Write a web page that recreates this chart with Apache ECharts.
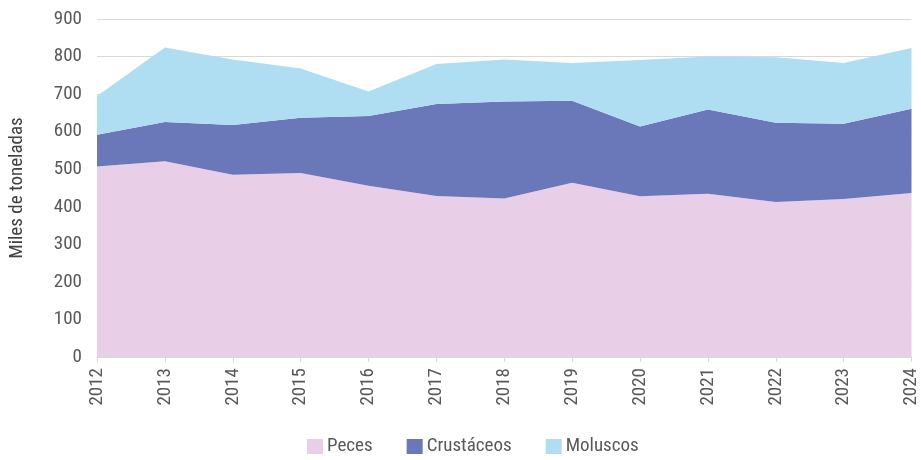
<!DOCTYPE html>
<html><head><meta charset="utf-8">
<script src="https://cdn.jsdelivr.net/npm/echarts@6/dist/echarts.min.js"></script>
<style>html,body{margin:0;padding:0;background:#fff}#c{width:921px;height:460px}</style>
</head><body><div id="c"></div>
<script>
const years = ['2012','2013','2014','2015','2016','2017','2018','2019','2020','2021','2022','2023','2024'];
const peces = [507,521,485,490,456,429,422,464,428,435,413,421,437];
const crustaceos = [85,105,133,147,186,245,258,218,186,224,211,200,224];
const moluscos = [103,198,174,131,65,106,112,101,177,141,174,162,162];
const yTicks = [0,100,200,300,400,500,600,700,800,900];
const FONT = '"Roboto Condensed", "Roboto", sans-serif';
const colors = ['#e8cee6','#6a77b8','#afdef3'];
function mk(name, data, i){
  return {name, type:'line', stack:'t', data, symbol:'none', lineStyle:{width:0},
    itemStyle:{color:colors[i]}, areaStyle:{color:colors[i], opacity:1}};
}
const chart = echarts.init(document.getElementById('c'));
chart.setOption({
  animation:false,
  textStyle:{fontFamily:FONT},
  grid:{left:97,right:9,top:19,bottom:103},
  legend:{top:432,left:302,itemWidth:16,itemHeight:15,itemGap:34,icon:'rect',
    textStyle:{fontFamily:FONT,fontSize:19,color:'#595959',padding:[0,0,0,-1]}},
  xAxis:{type:'category',data:years,boundaryGap:false,
    axisLine:{lineStyle:{color:'#d9d9d9'}},
    axisTick:{show:true,length:5,lineStyle:{color:'#d9d9d9'}},
    axisLabel:{rotate:90,fontFamily:FONT,fontSize:19,color:'#595959',margin:11}},
  yAxis:{type:'value',min:0,max:900,interval:100,
    name:'Miles de toneladas',nameLocation:'middle',nameGap:70,nameRotate:90,
    nameTextStyle:{fontFamily:FONT,fontSize:19,color:'#404040'},
    axisLine:{show:false},axisTick:{show:false},
    splitLine:{lineStyle:{color:'#d9d9d9'}},
    axisLabel:{fontFamily:FONT,fontSize:19,color:'#595959',margin:15,
      formatter:v=>yTicks.includes(v)?String(v):''}},
  series:[mk('Peces',peces,0),mk('Crustáceos',crustaceos,1),mk('Moluscos',moluscos,2)]
});
</script></body></html>
